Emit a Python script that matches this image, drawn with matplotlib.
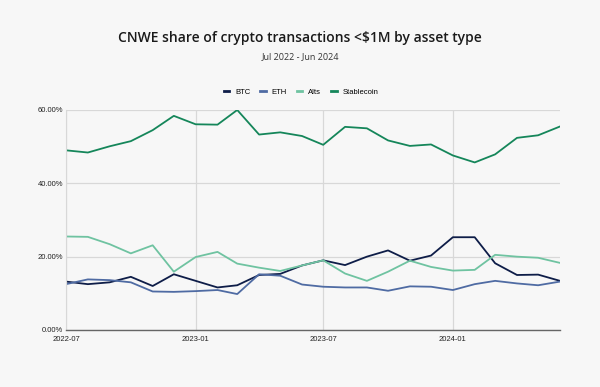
import matplotlib
matplotlib.use("Agg")
import matplotlib.pyplot as plt
import pandas as pd

months = pd.date_range("2022-07-01", "2024-06-01", freq="MS")
btc = [13.2, 12.5, 13.0, 14.5, 12.0, 15.2, 13.4, 11.6, 12.2, 15.0, 15.3, 17.6,
       19.0, 17.7, 20.0, 21.7, 18.9, 20.3, 25.3, 25.3, 18.2, 15.0, 15.1, 13.4]
eth = [12.5, 13.8, 13.6, 13.0, 10.5, 10.4, 10.6, 10.9, 9.8, 15.2, 14.8, 12.4,
       11.8, 11.6, 11.6, 10.7, 11.9, 11.8, 10.9, 12.5, 13.4, 12.7, 12.2, 13.2]
alts = [25.5, 25.4, 23.4, 20.9, 23.1, 15.9, 19.9, 21.3, 18.1, 17.0, 16.1, 17.6,
        19.0, 15.4, 13.4, 15.9, 18.9, 17.2, 16.2, 16.4, 20.5, 20.0, 19.7, 18.3]
stable = [49.0, 48.4, 50.1, 51.5, 54.5, 58.4, 56.1, 56.0, 60.0, 53.3, 53.9, 52.9,
          50.5, 55.4, 55.0, 51.7, 50.2, 50.6, 47.6, 45.7, 47.9, 52.4, 53.1, 55.5]

series = [("BTC", btc, "#0e1d48"), ("ETH", eth, "#4f6ba3"),
          ("Alts", alts, "#6fc3a1"), ("Stablecoin", stable, "#15865a")]

bg = "#f7f7f7"
plt.rcParams["font.family"] = ["Liberation Sans", "DejaVu Sans"]
fig = plt.figure(figsize=(6, 3.87), dpi=100, facecolor=bg)
ax = fig.add_axes([0.11, 0.1473, 0.8233, 0.5685], facecolor=bg)

for name, vals, col in series:
    ax.plot(months, vals, color=col, lw=1.3, label=name)

ax.set_ylim(0, 60)
ax.set_yticks([0, 20, 40, 60])
ax.set_yticklabels(["0.00%", "20.00%", "40.00%", "60.00%"])
ax.set_xlim(months[0], months[-1])
ticks = pd.to_datetime(["2022-07-01", "2023-01-01", "2023-07-01", "2024-01-01"])
ax.set_xticks(ticks)
ax.set_xticklabels([t.strftime("%Y-%m") for t in ticks])
ax.tick_params(axis="both", labelsize=5.5, length=0, colors="#222222")
ax.tick_params(axis="x", pad=4)
ax.tick_params(axis="y", pad=2)
ax.grid(True, color="#d8d8d8", lw=0.9)
ax.set_axisbelow(True)
for s in ["top", "right"]:
    ax.spines[s].set_visible(False)
ax.spines["left"].set_color("#d8d8d8")
ax.spines["bottom"].set_color("#666666")
ax.spines["bottom"].set_linewidth(1.0)

fig.text(0.5, 0.902, "CNWE share of crypto transactions <$1M by asset type",
         ha="center", va="center", fontsize=10, family=["Open Sans", "DejaVu Sans"],
         fontweight="semibold", color="#1a1a1a")
fig.text(0.5, 0.853, "Jul 2022 - Jun 2024", ha="center", va="center",
         fontsize=6.5, family=["Open Sans", "DejaVu Sans"], color="#333333")

leg = fig.legend(loc="center", bbox_to_anchor=(0.502, 0.762), ncol=4, frameon=False,
                 fontsize=5.5, handlelength=0.7, handletextpad=0.8, columnspacing=1.3)
for line in leg.get_lines():
    line.set_linewidth(2)

fig.savefig("out.png", dpi=100, facecolor=bg)
